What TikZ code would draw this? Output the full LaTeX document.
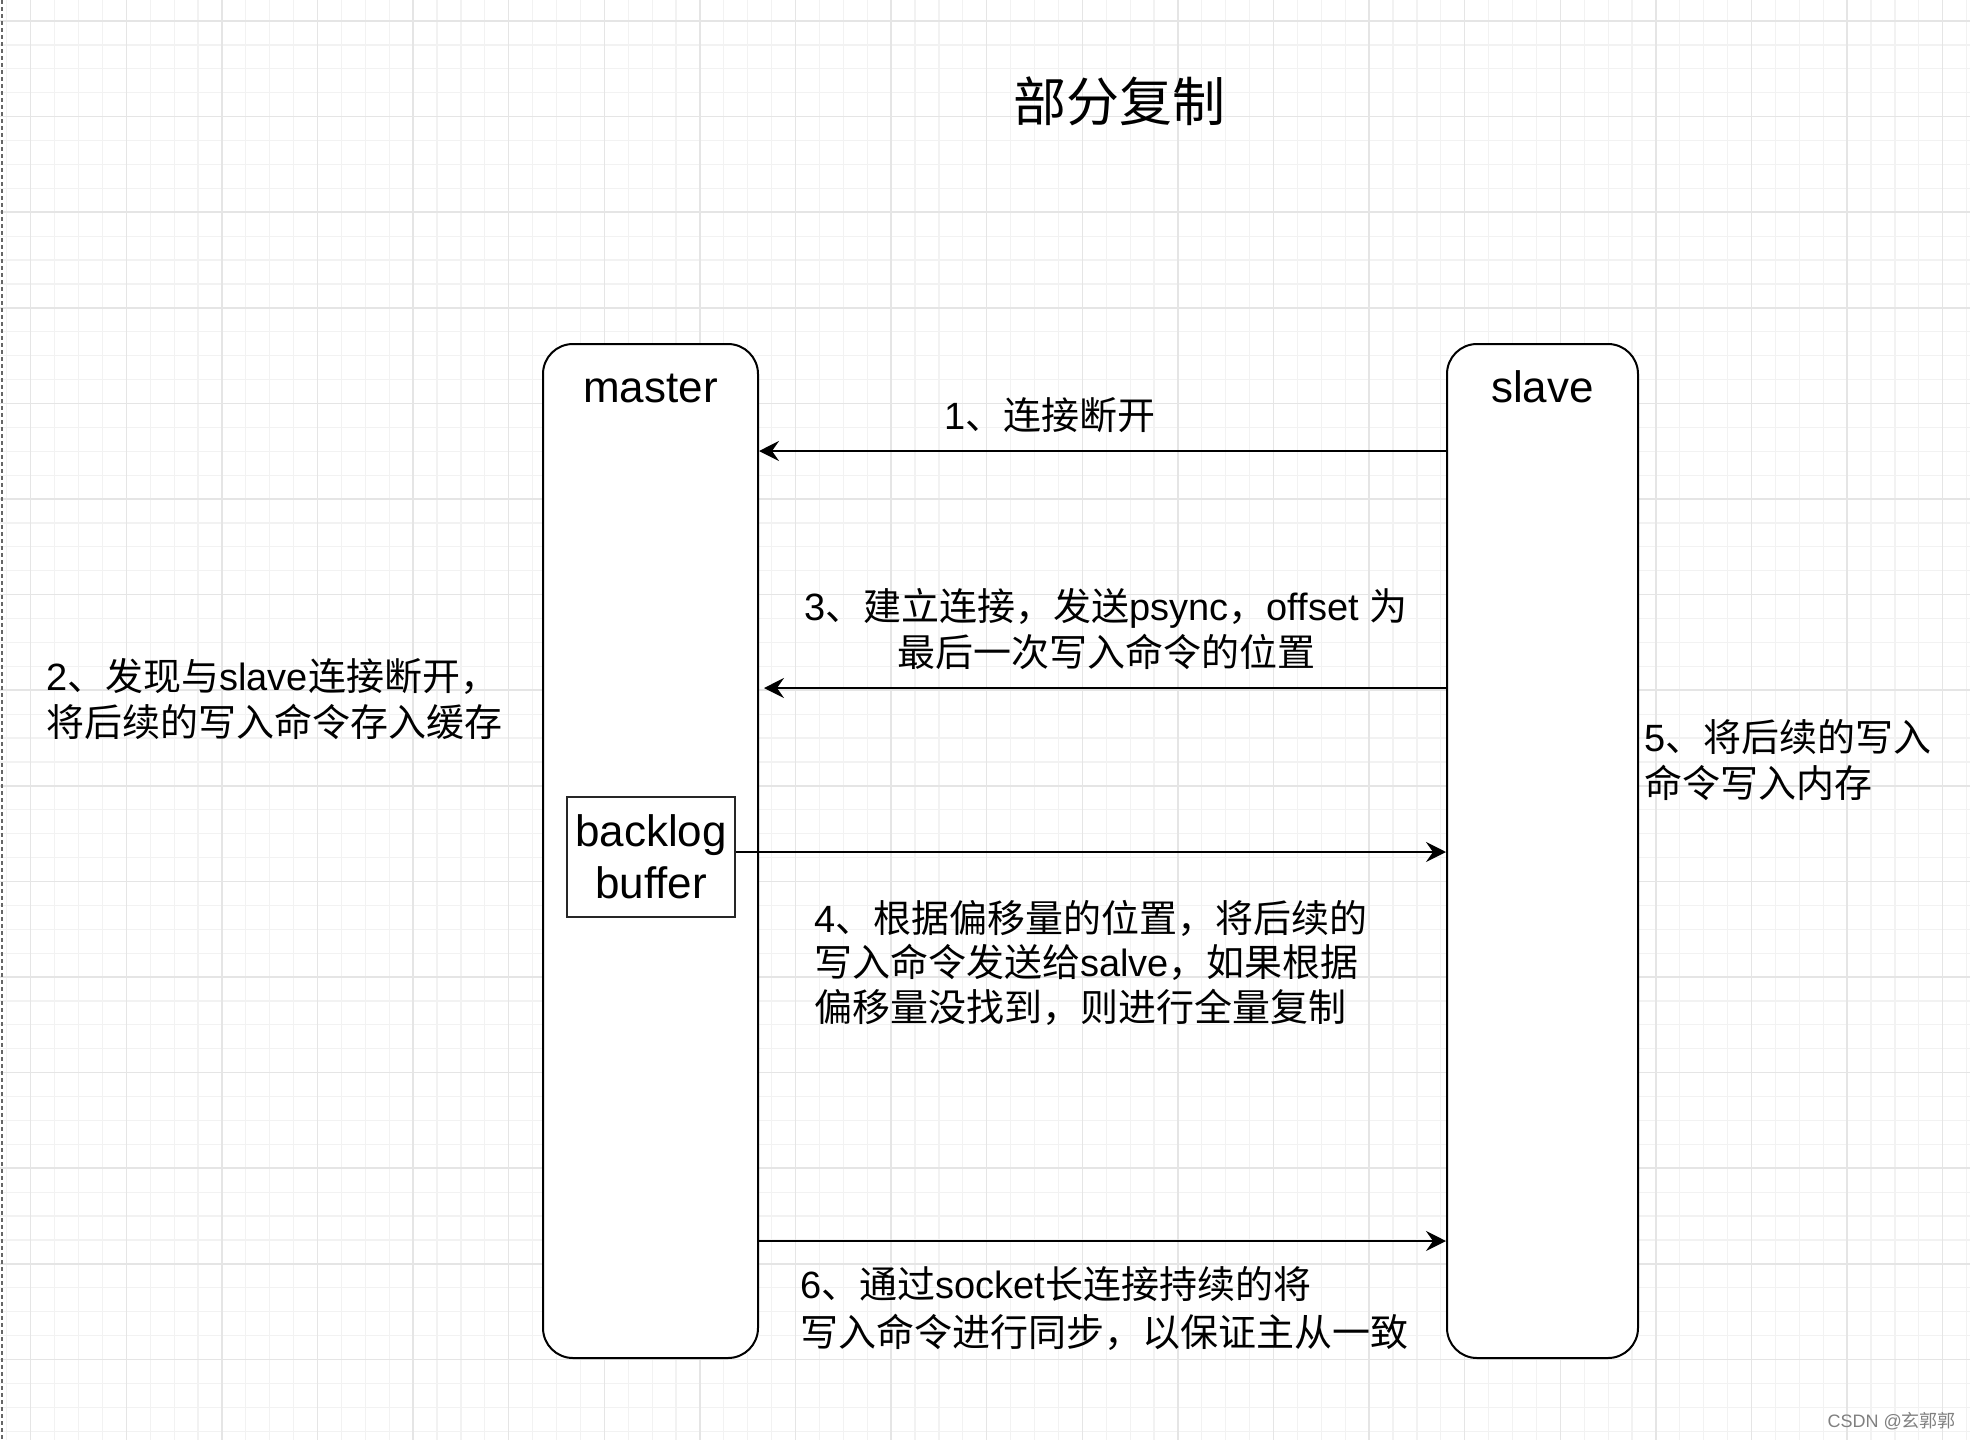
\documentclass[tikz,border=0pt]{standalone}
\usepackage{fontspec}
\setmainfont{Liberation Sans}
\newfontfamily\cjk{Noto Sans CJK SC}
\newcommand\zh[1]{{\cjk #1}}
\usetikzlibrary{arrows.meta}
\tikzset{
  minorgrid/.style={draw=black!5, line width=1.2pt},
  majorgrid/.style={draw=black!10, line width=1.5pt},
  pageedge/.style={draw=black!60, line width=2pt, dash pattern=on 4pt off 3pt},
  lifebox/.style={draw=black, line width=2pt, fill=white, rounded corners=30pt, minimum height=1014pt, inner sep=0pt},
  bufbox/.style={draw=black!85, line width=1.6pt, fill=white, minimum width=168pt, minimum height=120pt, inner sep=0pt, align=center, font=\fontsize{44}{52}\selectfont},
  headtxt/.style={font=\fontsize{44}{50}\selectfont, inner sep=0pt},
  titletxt/.style={font=\fontsize{53}{60}\selectfont, inner sep=0pt},
  txt/.style={font=\fontsize{38}{46}\selectfont, inner sep=0pt, align=left},
  wmtxt/.style={font=\fontsize{18}{22}\selectfont, inner sep=0pt, text=black!50},
  arr/.style={draw=black, line width=2pt, -{Stealth[length=20pt,width=20pt,inset=7pt]}},
}
\begin{document}
\begin{tikzpicture}[x=1pt,y=-1pt]
\useasboundingbox (0,0) rectangle (1970,1440);
\fill[white] (0,0) rectangle (1970,1440);
\begin{scope}
\clip (0,0) rectangle (1970,1440);
\foreach \i in {0,...,82} {\draw[minorgrid] ({6.8+\i*23.9},0) -- ({6.8+\i*23.9},1440);}
\foreach \i in {-1,...,60} {\draw[minorgrid] (0,{21+\i*23.9}) -- (1970,{21+\i*23.9});}
\foreach \i in {0,...,20} {\draw[majorgrid] ({30.7+\i*95.6},0) -- ({30.7+\i*95.6},1440);}
\foreach \i in {0,...,14} {\draw[majorgrid] (0,{21+\i*95.6}) -- (1970,{21+\i*95.6});}
\draw[pageedge] (1.5,0) -- (1.5,1440);
\end{scope}

\node[titletxt, anchor=base] (title) at (1119,121) {\zh{部分复制}};

\node[lifebox, minimum width=215pt] (master) at (650.5,851) {};
\node[headtxt, anchor=base] (mastername) at (650.5,402) {master};
\node[lifebox, minimum width=191pt] (slave) at (1542.5,851) {};
\node[headtxt, anchor=base] (slavename) at (1542.5,402) {slave};
\node[bufbox] (backlog) at (651,857) {backlog\\buffer};

\coordinate (y1) at (0,451);
\coordinate (y3) at (0,688);
\coordinate (y4) at (0,852);
\coordinate (y6) at (0,1241);

\draw[arr] (slave.west |- y1) -- (master.east |- y1);
\draw[arr, shorten >=5pt] (slave.west |- y3) -- (master.east |- y3);
\draw[arr] (backlog.east |- y4) -- (slave.west |- y4);
\draw[arr] (master.east |- y6) -- (slave.west |- y6);

% multi-line nodes: base anchor is the baseline of the last line
\node[txt, anchor=base west] (t1) at (944,429) {1\zh{、连接断开}};
\node[txt, anchor=base west] (t2) at (46,736) {2\zh{、发现与}slave\zh{连接断开，}\\\zh{将后续的写入命令存入缓存}};
\node[txt, align=center, anchor=base] (t3) at (1106,666) {3\zh{、建立连接，发送}psync\zh{，}offset \zh{为}\\\zh{最后一次写入命令的位置}};
\node[txt, font=\fontsize{38}{44.5}\selectfont, anchor=base west] (t4) at (814,1021) {4\zh{、根据偏移量的位置，将后续的}\\\zh{写入命令发送给}salve\zh{，如果根据}\\\zh{偏移量没找到，则进行全量复制}};
\node[txt, anchor=base west] (t5) at (1644,797) {5\zh{、将后续的写入}\\\zh{命令写入内存}};
\node[txt, font=\fontsize{38}{48}\selectfont, anchor=base west] (t6) at (800,1346) {6\zh{、通过}socket\zh{长连接持续的将}\\\zh{写入命令进行同步，以保证主从一致}};
\node[wmtxt, anchor=base east] (wm) at (1956,1427) {CSDN @\zh{玄郭郭}};
\end{tikzpicture}
\end{document}
